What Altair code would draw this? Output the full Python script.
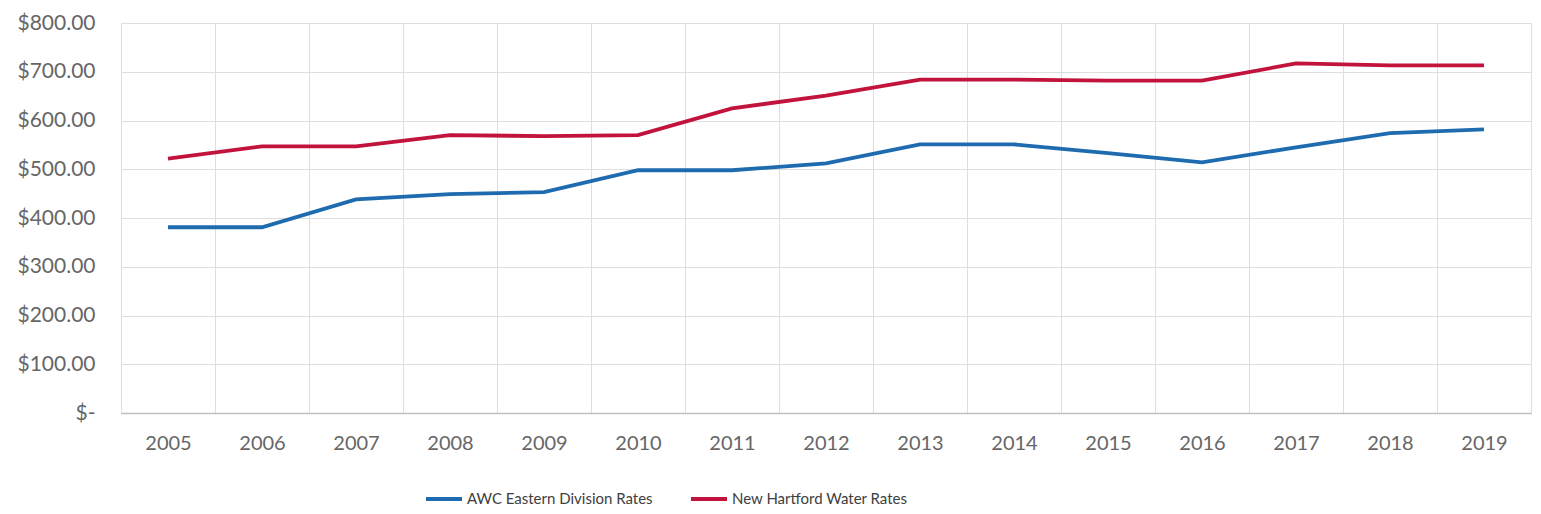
import altair as alt
import pandas as pd

years = [str(y) for y in range(2005, 2020)]
awc_rates = [381, 381, 438, 449, 453, 498, 498, 512, 551, 551, 533, 514, 545, 574, 582]
nh_rates = [522, 547, 547, 570, 568, 570, 625, 651, 684, 684, 682, 682, 717, 713, 713]
series_names = ["AWC Eastern Division Rates", "New Hartford Water Rates"]
series_colors = ["#1F6BB0", "#C1133C"]

rows = []
for y, a, n in zip(years, awc_rates, nh_rates):
    rows.append({"Year": y, "Series": series_names[0], "Rate": a})
    rows.append({"Year": y, "Series": series_names[1], "Rate": n})
df = pd.DataFrame(rows)

FONT = "Lato"
GRAY = "#666666"

chart = alt.Chart(df).mark_line(strokeWidth=3.8).encode(
    x=alt.X(
        "Year:O",
        title=None,
        bandPosition=0.5,
        scale=alt.Scale(type="band", paddingInner=0, paddingOuter=0),
        axis=alt.Axis(
            tickBand="extent",
            labelAngle=0,
            labelFontSize=20,
            labelColor=GRAY,
            labelFont=FONT,
            labelPadding=20,
            ticks=False,
            domain=True,
            domainColor="#BFBFBF",
            domainWidth=1.5,
            grid=True,
            gridColor="#DEDEDE",
            gridWidth=1,
        ),
    ),
    y=alt.Y(
        "Rate:Q",
        title=None,
        scale=alt.Scale(domain=[0, 800], nice=False),
        axis=alt.Axis(
            values=[0, 100, 200, 300, 400, 500, 600, 700, 800],
            labelExpr="datum.value == 0 ? '$-\u00a0\u00a0\u00a0' : '$' + format(datum.value, ',.2f')",
            labelFontSize=21,
            labelColor=GRAY,
            labelFont=FONT,
            labelPadding=26,
            ticks=False,
            domain=False,
            grid=True,
            gridColor="#DEDEDE",
            gridWidth=1,
        ),
    ),
    color=alt.Color(
        "Series:N",
        sort=series_names,
        scale=alt.Scale(domain=series_names, range=series_colors),
        legend=alt.Legend(
            title=None,
            orient="none",
            direction="horizontal",
            legendX=303,
            legendY=456,
            symbolType="stroke",
            symbolSize=1296,
            symbolStrokeWidth=3.8,
            labelFontSize=15,
            labelFont=FONT,
            labelColor="#404040",
            labelLimit=0,
            labelOffset=3,
            columnPadding=30,
        ),
    ),
).properties(
    width=1410,
    height=390,
    padding={"left": 113, "top": 15, "right": 2, "bottom": 93},
    autosize=alt.AutoSizeParams(type="none"),
).configure_view(strokeWidth=0).configure(background="white")

chart.save("out.html", embed_options={"renderer": "svg", "actions": False})
